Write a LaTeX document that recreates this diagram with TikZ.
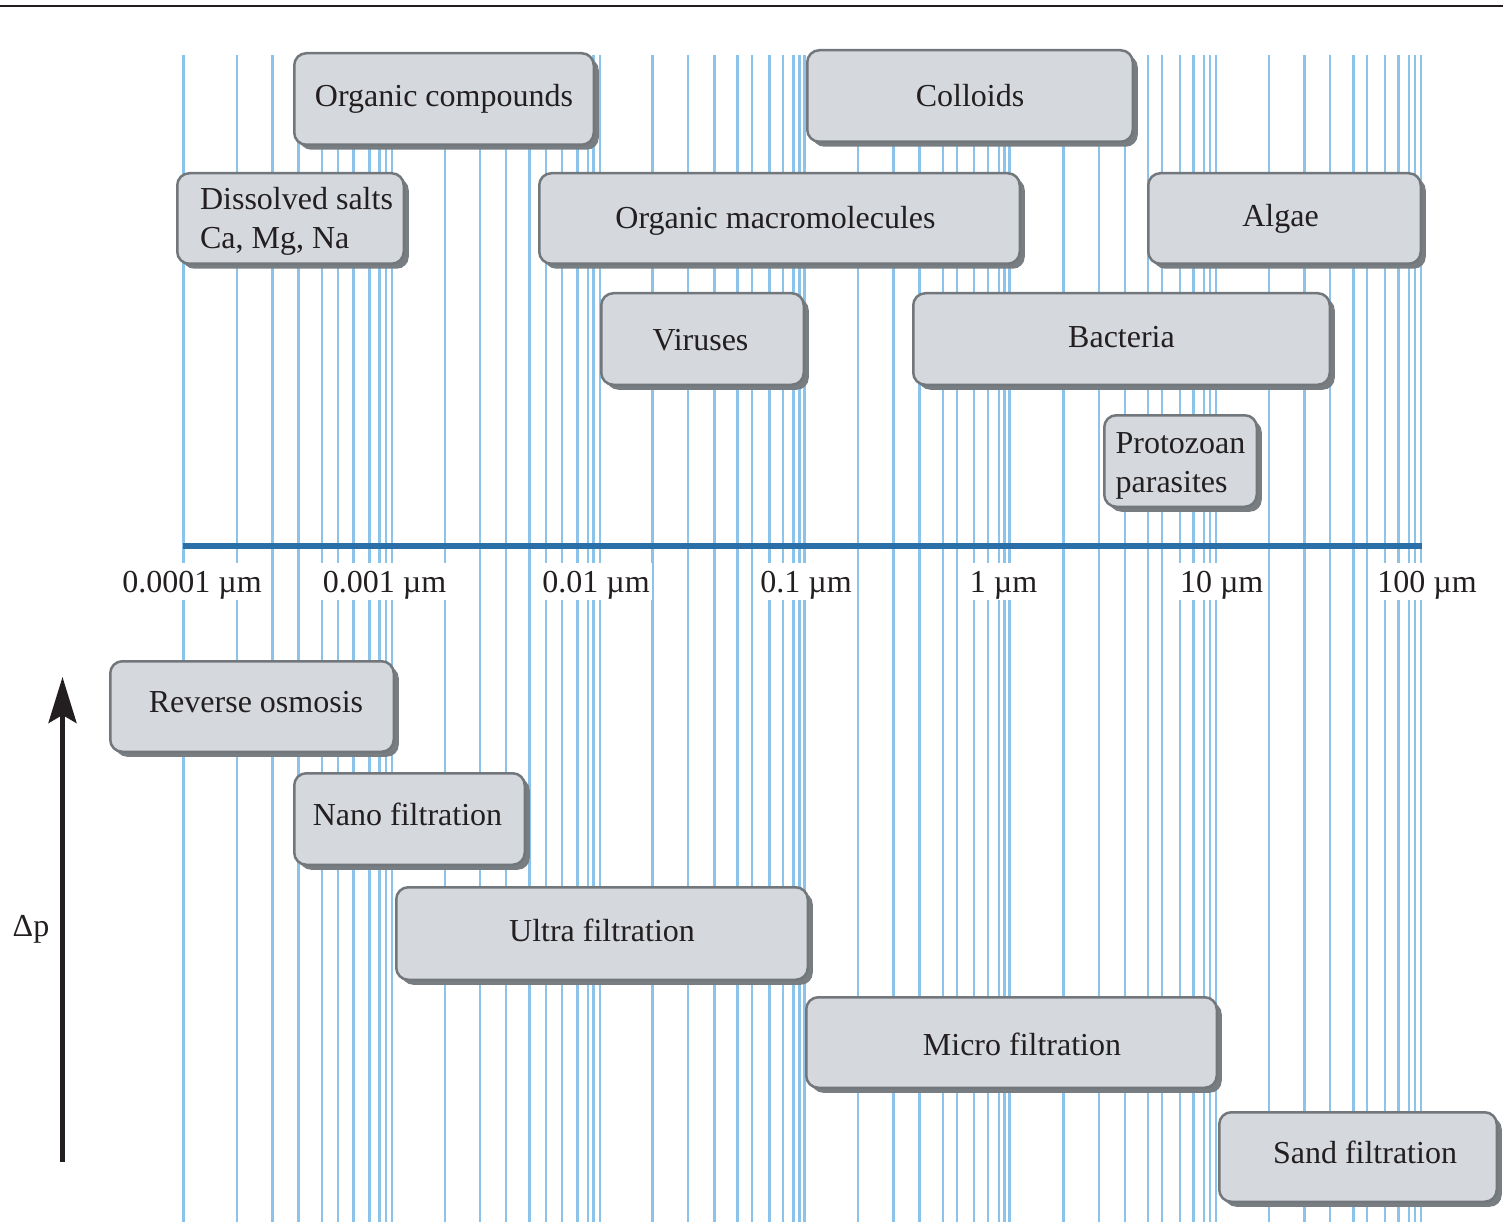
\documentclass[tikz,border=0pt]{standalone}
\usepackage{fontspec}
\setmainfont{Liberation Serif}
\usetikzlibrary{shadows,arrows.meta}
\definecolor{gridblue}{HTML}{8CC3EA}
\definecolor{axisblue}{HTML}{2A6FA7}
\definecolor{boxfill}{HTML}{D5D8DD}
\definecolor{boxborder}{HTML}{72777C}
\definecolor{boxshadow}{HTML}{787D82}
\definecolor{inkblack}{HTML}{231F20}
\tikzset{
  gridline/.style={draw=gridblue, line width=2.4pt},
  axisline/.style={draw=axisblue, line width=5.5pt},
  ticklabel/.style={fill=white, inner xsep=2pt, inner ysep=0pt, text height=29.7pt, text depth=7.3pt, anchor=base, font=\fontsize{32}{39}\selectfont, text=inkblack},
  boxbase/.style={draw=boxborder, line width=2.5pt, fill=boxfill, rounded corners=12pt,
    drop shadow={shadow xshift=5pt, shadow yshift=-5pt, fill=boxshadow, opacity=1},
    font=\fontsize{32}{39}\selectfont, text=inkblack, inner sep=0pt},
  onebox/.style={boxbase, text height=22pt, text depth=6pt},
  twobox/.style={boxbase, align=left},
}
\begin{document}
\begin{tikzpicture}[x=1pt, y=-1pt]
\useasboundingbox (0,0) rectangle (1503,1222);
% top rule
\draw[draw=inkblack, line width=2.7pt] (0,6) -- (1503,6);
% logarithmic grid
\foreach \x in {183.3, 236.7, 272.3, 298.3, 321.7, 337.7, 353.3, 369.3, 379.3, 386, 391.7,
  445, 480, 506, 529.3, 546, 561.7, 577.3, 587.7, 593.3, 600,
  652.3, 687.7, 714.3, 737.3, 751.7, 769.3, 782.7, 793.3, 799.3, 804.3,
  857.7, 893.3, 919.3, 942.7, 956.7, 974, 987.7, 999, 1004.3, 1009.3,
  1063.3, 1099, 1125, 1147.7, 1162, 1180, 1193.3, 1204, 1210, 1215.7,
  1268.7, 1304.3, 1330, 1353.3, 1366.7, 1385, 1398.3, 1409, 1415, 1421}
  \draw[gridline] (\x,55) -- (\x,1222);
% axis
\draw[axisline] (183,546.2) -- (1421.5,546.2);
% tick labels
\node[ticklabel] (t1) at (192,592.7) {0.0001 µm};
\node[ticklabel] (t2) at (384.5,592.7) {0.001 µm};
\node[ticklabel] (t3) at (596,592.7) {0.01 µm};
\node[ticklabel] (t4) at (806,592.7) {0.1 µm};
\node[ticklabel] (t5) at (1003.5,592.7) {1 µm};
\node[ticklabel] (t6) at (1221.7,592.7) {10 µm};
\node[ticklabel] (t7) at (1427,592.7) {100 µm};
% particle boxes
\node[onebox, minimum width=299.5pt, minimum height=91.5pt] (oc) at (444,99) {Organic compounds};
\node[onebox, text height=28pt, minimum width=325.5pt, minimum height=91.5pt] (col) at (970,96) {Colloids};
\node[twobox, minimum width=226.5pt, minimum height=90.5pt] (ds) at (290.5,218.5) {\hspace*{12pt}\rule{0pt}{28pt}Dissolved salts\\\hspace*{12pt}Ca, Mg, Na};
\node[onebox, text height=26pt, minimum width=480.5pt, minimum height=90.5pt] (om) at (779.5,218.5) {Organic macromolecules\hspace*{8pt}};
\node[onebox, minimum width=272.5pt, minimum height=90.5pt] (alg) at (1284.5,218.5) {Algae\hspace*{8pt}};
\node[onebox, text height=28pt, minimum width=202.5pt, minimum height=91.5pt] (vir) at (702.5,339) {Viruses\hspace*{4pt}};
\node[onebox, minimum width=416.5pt, minimum height=91.5pt] (bac) at (1121.5,339) {Bacteria};
\node[twobox, minimum width=152.5pt, minimum height=91.5pt] (pro) at (1180.5,461) {\rule{0pt}{30pt}Protozoan\\parasites};
% process boxes
\node[onebox, text height=18pt, minimum width=283.5pt, minimum height=90.5pt] (ro) at (252,706.5) {\hspace*{8pt}Reverse osmosis};
\node[onebox, text height=18pt, minimum width=230.5pt, minimum height=91.5pt] (nf) at (409.5,819) {Nano filtration\hspace*{4pt}};
\node[onebox, minimum width=411.5pt, minimum height=92.5pt] (uf) at (602,933.5) {Ultra filtration};
\node[onebox, text height=32pt, minimum width=410.5pt, minimum height=90.5pt] (mf) at (1011.5,1042.5) {\hspace*{21pt}Micro filtration};
\node[onebox, text height=18pt, minimum width=277.5pt, minimum height=89.5pt] (sf) at (1358,1157) {\hspace*{14pt}Sand filtration};
% pressure arrow
\coordinate (abot) at (62.5,1162);
\coordinate (atop) at (62.5,677);
\draw[draw=inkblack, fill=inkblack, line width=4.5pt, -{Stealth[length=46pt, width=28pt, inset=8pt]}] (abot) -- (atop);
\node[font=\fontsize{32}{39}\selectfont, text=inkblack, anchor=base, inner sep=0pt] (dp) at (31,936) {Δp};
\end{tikzpicture}
\end{document}
